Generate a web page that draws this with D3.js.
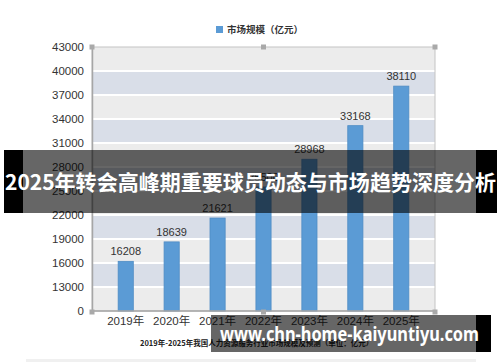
<!DOCTYPE html>
<html>
<head>
<meta charset="utf-8">
<script src="https://cdn.jsdelivr.net/npm/d3@7"></script>
<style>
  body { margin: 0; background: #fff; }
  svg { display: block; font-family: "Liberation Sans", "Noto Sans CJK SC", sans-serif; }
</style>
</head>
<body>
<div id="chart"></div>
<script>
// data
const years = ["2019年", "2020年", "2021年", "2022年", "2023年", "2024年", "2025年"];
const values = [16208, 18639, 21621, 25500, 28968, 33168, 38110];
const tickValues = [10000, 13000, 16000, 19000, 22000, 25000, 28000, 31000, 34000, 37000, 40000, 43000];
const tickLabels = ["0", "13000", "16000", "19000", "22000", "25000", "28000", "31000", "34000", "37000", "40000", "43000"];
const legendLabel = "市场规模（亿元）";
const caption = "2019年-2025年我国人力资源服务行业市场规模及预测（单位：亿元）";
const banner = "2025年转会高峰期重要球员动态与市场趋势深度分析";
const watermark = "www.chn-home-kaiyuntiyu.com";

const width = 500, height = 362;
const frame = { left: 92, right: 435, top: 47, bottom: 311 };

const svg = d3.select("#chart").append("svg")
  .attr("width", width)
  .attr("height", height);

const x = d3.scaleBand()
  .domain(years)
  .range([103, 424])
  .paddingInner(0.67)
  .paddingOuter(0.33);

const y = d3.scaleLinear()
  .domain([10000, 43000])
  .range([frame.bottom, frame.top]);

// striped background bands
const bands = d3.pairs(tickValues);
svg.append("g")
  .selectAll("rect")
  .data(bands)
  .join("rect")
  .attr("x", frame.left)
  .attr("width", frame.right - frame.left)
  .attr("y", d => y(d[1]))
  .attr("height", d => y(d[0]) - y(d[1]))
  .attr("fill", (d, i) => (bands.length - 1 - i) % 2 === 0 ? "#ececec" : "#d9dee8");

// white grid lines
svg.append("g")
  .selectAll("line")
  .data(tickValues.slice(1, -1))
  .join("line")
  .attr("x1", frame.left)
  .attr("x2", frame.right)
  .attr("y1", d => y(d))
  .attr("y2", d => y(d))
  .attr("stroke", "#fff")
  .attr("stroke-width", 2);

// frame
svg.append("rect")
  .attr("x", frame.left)
  .attr("y", frame.top)
  .attr("width", frame.right - frame.left)
  .attr("height", frame.bottom - frame.top)
  .attr("fill", "none")
  .attr("stroke", "#c4c4c4");

// bars
svg.append("g")
  .selectAll("rect")
  .data(values)
  .join("rect")
  .attr("x", (d, i) => x(years[i]))
  .attr("width", x.bandwidth())
  .attr("y", d => y(d))
  .attr("height", d => y(10000) - y(d))
  .attr("fill", "#5b9bd5")
  .attr("stroke", "#4f8cc4")
  .attr("stroke-width", 0.8);

// value labels
svg.append("g")
  .selectAll("text")
  .data(values)
  .join("text")
  .attr("x", (d, i) => x(years[i]) + x.bandwidth() / 2)
  .attr("y", d => y(d) - 6)
  .attr("text-anchor", "middle")
  .attr("font-size", 11)
  .attr("fill", "#333")
  .text(d => d);

// y axis
const yAxis = svg.append("g")
  .attr("transform", `translate(${frame.left},0)`)
  .call(d3.axisLeft(y).tickValues(tickValues)
    .tickFormat((d, i) => tickLabels[i]).tickSize(0).tickPadding(8));
yAxis.select(".domain").attr("stroke", "#a6a6a6").attr("stroke-width", 1.5);
yAxis.selectAll("text").attr("font-size", 11.5).attr("fill", "#333")
  .attr("font-family", "Liberation Sans, sans-serif");

// x axis
const xAxis = svg.append("g")
  .attr("transform", `translate(0,${frame.bottom})`)
  .call(d3.axisBottom(x).tickSize(0).tickPadding(6));
xAxis.select(".domain").remove();
svg.append("line")
  .attr("x1", frame.left).attr("x2", frame.right)
  .attr("y1", frame.bottom).attr("y2", frame.bottom)
  .attr("stroke", "#a6a6a6").attr("stroke-width", 1.5);
xAxis.selectAll("text").attr("font-size", 11.5).attr("fill", "#333")
  .attr("font-family", "Liberation Sans, Noto Sans CJK SC, sans-serif");

// selection handles
const handles = [
  [frame.left, frame.top], [(frame.left + frame.right) / 2, frame.top], [frame.right, frame.top],
  [frame.left, frame.bottom + 1], [(frame.left + frame.right) / 2, frame.bottom + 1], [frame.right, frame.bottom + 1]
];
svg.append("g")
  .selectAll("rect")
  .data(handles)
  .join("rect")
  .attr("x", d => d[0] - 2.5)
  .attr("y", d => d[1] - 2.5)
  .attr("width", 5)
  .attr("height", 5)
  .attr("fill", "#a9a9a9");

// legend
svg.append("rect")
  .attr("x", 216).attr("y", 26).attr("width", 7).attr("height", 7)
  .attr("fill", "#5b9bd5");
svg.append("text")
  .attr("x", 227).attr("y", 33)
  .attr("font-size", 9.5)
  .attr("font-weight", "bold")
  .attr("fill", "#333")
  .attr("font-family", "Noto Sans CJK SC, sans-serif")
  .text(legendLabel);

// caption
svg.append("text")
  .attr("x", 140).attr("y", 346)
  .attr("font-size", 7.5)
  .attr("font-weight", "bold")
  .attr("fill", "#222")
  .attr("font-family", "Noto Sans CJK SC, sans-serif")
  .text(caption);

// faint strip at the bottom
svg.append("rect")
  .attr("x", 26).attr("y", 359).attr("width", 450).attr("height", 3)
  .attr("fill", "#f0f0f0");

// banner overlay: solid ends, translucent middle
svg.append("rect")
  .attr("x", 4).attr("y", 150).attr("width", 19).attr("height", 63)
  .attr("fill", "#000");
svg.append("rect")
  .attr("x", 476).attr("y", 150).attr("width", 21).attr("height", 63)
  .attr("fill", "#000");
svg.append("rect")
  .attr("x", 23).attr("y", 150).attr("width", 453).attr("height", 63)
  .attr("fill", "#000")
  .attr("fill-opacity", 0.6);
svg.append("text")
  .attr("x", 5).attr("y", 190)
  .attr("font-size", 21)
  .attr("font-weight", "bold")
  .attr("fill", "#fff")
  .attr("font-family", "Noto Sans CJK SC, sans-serif")
  .attr("textLength", 491)
  .attr("lengthAdjust", "spacingAndGlyphs")
  .text(banner);

// watermark box
svg.append("rect")
  .attr("x", 211).attr("y", 315).attr("width", 265).attr("height", 37)
  .attr("fill", "#000")
  .attr("fill-opacity", 0.6);
svg.append("rect")
  .attr("x", 476).attr("y", 315).attr("width", 15).attr("height", 37)
  .attr("fill", "#000");
svg.append("text")
  .attr("x", 220).attr("y", 341)
  .attr("font-size", 19)
  .attr("font-weight", "bold")
  .attr("fill", "#fff")
  .attr("font-family", "Noto Sans, sans-serif")
  .attr("textLength", 259)
  .attr("lengthAdjust", "spacingAndGlyphs")
  .text(watermark);
</script>
</body>
</html>
